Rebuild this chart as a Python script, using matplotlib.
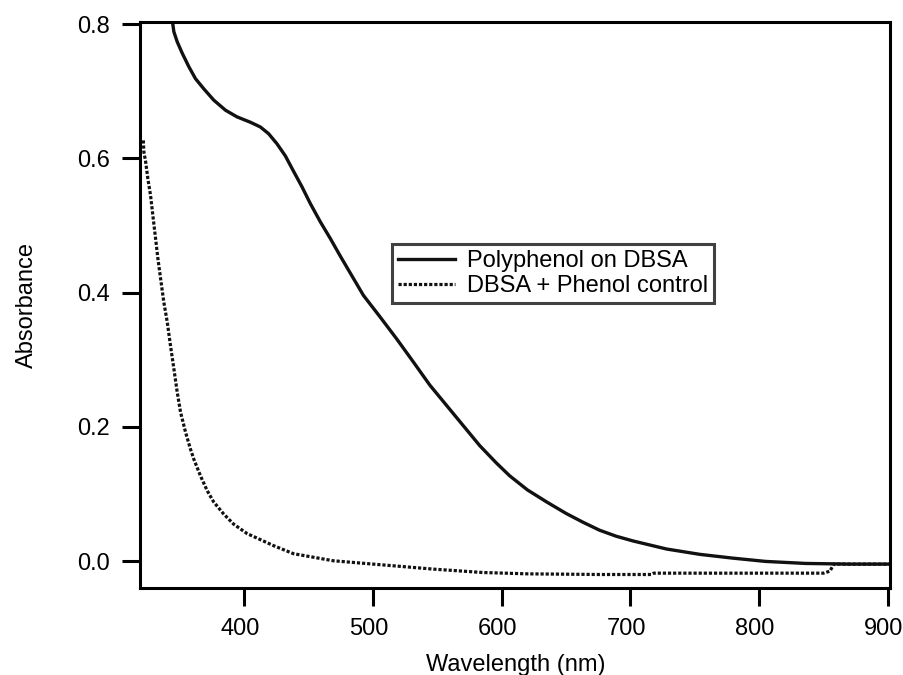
#!/usr/bin/env python3
import matplotlib
matplotlib.use("Agg")
import matplotlib.pyplot as plt
import matplotlib.transforms as mtransforms

plt.rcParams['font.family'] = ['Liberation Sans', 'DejaVu Sans']

# polyphenol on DBSA
poly_wl = [340, 344.0, 345.2, 347.8, 351.7, 356.8, 362.0, 368.4, 376.2, 385.3, 394.3,
           404.7, 412.4, 418.8, 425.3, 431.8, 438.2, 444.7, 451.2, 458.9, 466.7, 474.4,
           479.6, 492.5, 505.4, 518.4, 531.2, 544.2, 557.1, 570.0, 582.9, 595.9, 606.2,
           620, 635, 650, 663, 676, 689, 702, 728, 754, 779, 805, 836, 870, 902]
poly_abs = [0.86, 0.806, 0.789, 0.774, 0.757, 0.737, 0.719, 0.704, 0.687, 0.672, 0.662,
            0.654, 0.647, 0.637, 0.622, 0.604, 0.581, 0.558, 0.533, 0.506, 0.481, 0.455,
            0.438, 0.396, 0.364, 0.331, 0.297, 0.262, 0.232, 0.202, 0.172, 0.146, 0.127,
            0.106, 0.088, 0.071, 0.058, 0.046, 0.037, 0.030, 0.018, 0.010, 0.0045,
            -0.0005, -0.0035, -0.0045, -0.0045]

# DBSA + phenol control
ctrl_wl = [321.5, 321.9, 323.3, 325.0, 327.1, 328.9, 331.0, 332.8, 334.9, 337.4, 340.1,
           342.6, 345.2, 347.8, 350.4, 354.3, 358.1, 360.7, 365.9, 371.1, 376.2, 384.0,
           391.7, 402.1, 412.4, 422.7, 438.2, 469, 500, 547, 585, 620, 676, 716, 718,
           800, 850, 855, 858, 902]
ctrl_abs = [0.627, 0.610, 0.595, 0.570, 0.545, 0.515, 0.481, 0.451, 0.421, 0.386, 0.356,
            0.321, 0.287, 0.252, 0.222, 0.192, 0.167, 0.152, 0.127, 0.105, 0.088, 0.070,
            0.055, 0.041, 0.032, 0.023, 0.011, 0.0005, -0.0045, -0.012, -0.017, -0.019,
            -0.020, -0.020, -0.018, -0.018, -0.018, -0.015, -0.0045, -0.0045]

fig = plt.figure(figsize=(9.04, 6.75), dpi=100)
ax = fig.add_axes([0.155, 0.129, 0.830, 0.838])

ax.plot(poly_wl, poly_abs, color="#111111", lw=2.4, label="Polyphenol on DBSA")
ax.plot(ctrl_wl, ctrl_abs, color="#111111", lw=2.3, linestyle=(0, (1, 0.6)),
        label="DBSA + Phenol control")

ax.set_xlim(319, 902)
ax.set_ylim(-0.040, 0.803)
ax.set_xticks([400, 500, 600, 700, 800, 900])
ax.set_yticks([0.0, 0.2, 0.4, 0.6, 0.8])
ax.set_yticklabels(["0.0", "0.2", "0.4", "0.6", "0.8"])

for s in ax.spines.values():
    s.set_linewidth(2.2)
ax.tick_params(direction="out", length=13, width=2.2, labelsize=17)
ax.tick_params(axis="x", pad=9)
ax.tick_params(axis="y", pad=9)

# tick labels sit a little left of their ticks in the original
shift = mtransforms.ScaledTranslation(-4 / 100, 0, fig.dpi_scale_trans)
for lab in ax.get_xticklabels():
    lab.set_transform(lab.get_transform() + shift)

ax.set_xlabel("Wavelength (nm)", fontsize=17, labelpad=10)
ax.set_ylabel("Absorbance", fontsize=17, labelpad=28)

leg = ax.legend(loc="upper left", bbox_to_anchor=(0.336, 0.608), fontsize=17,
                frameon=True, fancybox=False, handlelength=2.4, handletextpad=0.5,
                borderpad=0.25, labelspacing=0.15, borderaxespad=0)
leg.get_frame().set_edgecolor("#111111")
leg.get_frame().set_linewidth(2.2)

fig.savefig("out.png", dpi=100)
